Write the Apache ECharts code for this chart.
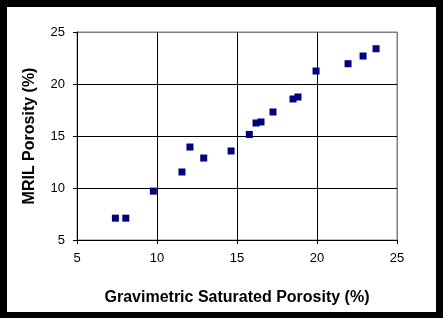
<!DOCTYPE html>
<html><head><meta charset="utf-8">
<script src="https://cdn.jsdelivr.net/npm/echarts@6/dist/echarts.min.js"></script>
<style>
html,body{margin:0;padding:0;background:#000;}
#wrap{position:relative;width:443px;height:318px;background:#000;}
#inner{position:absolute;left:7px;top:7px;width:429px;height:305px;background:#fff;}
#chart{position:absolute;left:0;top:0;width:443px;height:318px;}
</style></head>
<body>
<div id="wrap"><div id="inner"></div><div id="chart"></div></div>
<script>
const gravimetric = [7.4, 8.05, 9.77, 11.56, 12.06, 12.92, 14.63, 15.77, 16.19, 16.5, 17.25, 18.5, 18.81, 19.94, 21.94, 22.88, 23.69];
const mril = [7.1, 7.1, 9.7, 11.54, 13.94, 12.88, 13.56, 15.15, 16.25, 16.35, 17.31, 18.56, 18.75, 21.25, 21.95, 22.69, 23.39];
const xName = 'Gravimetric Saturated Porosity (%)';
const yName = 'MRIL Porosity (%)';

const points = gravimetric.map((x, i) => [x, mril[i]]);
const chart = echarts.init(document.getElementById('chart'), null, {renderer: 'canvas'});
const font = 'Liberation Sans, Arial, sans-serif';
const gridColors = ['#000', '#000', '#000', '#000', '#808080'];
chart.setOption({
  backgroundColor: 'transparent',
  animation: false,
  grid: {left: 77, top: 32, width: 320, height: 208, show: true, borderColor: '#808080', borderWidth: 1, backgroundColor: 'transparent'},
  xAxis: {
    type: 'value', min: 5, max: 25, interval: 5,
    name: xName, nameLocation: 'middle', nameGap: 50,
    nameTextStyle: {fontFamily: font, fontSize: 16, fontWeight: 'bold', color: '#000'},
    axisLine: {show: true, lineStyle: {color: '#000', width: 1}},
    axisTick: {show: true, inside: false, length: 4, lineStyle: {color: '#000'}},
    axisLabel: {fontFamily: font, fontSize: 13, color: '#000', margin: 12},
    splitLine: {show: true, lineStyle: {color: gridColors, width: 1}}
  },
  yAxis: {
    type: 'value', min: 5, max: 25, interval: 5,
    name: yName, nameLocation: 'middle', nameGap: 39, nameRotate: 90,
    nameTextStyle: {fontFamily: font, fontSize: 16, fontWeight: 'bold', color: '#000'},
    axisLine: {show: true, lineStyle: {color: '#000', width: 1}},
    axisTick: {show: true, inside: false, length: 4, lineStyle: {color: '#000'}},
    axisLabel: {fontFamily: font, fontSize: 13, color: '#000', margin: 12},
    splitLine: {show: true, lineStyle: {color: gridColors, width: 1}}
  },
  series: [{
    type: 'scatter',
    data: points,
    symbol: 'rect',
    symbolSize: 7,
    itemStyle: {color: '#000080', opacity: 1}
  }]
});
</script>
</body></html>
